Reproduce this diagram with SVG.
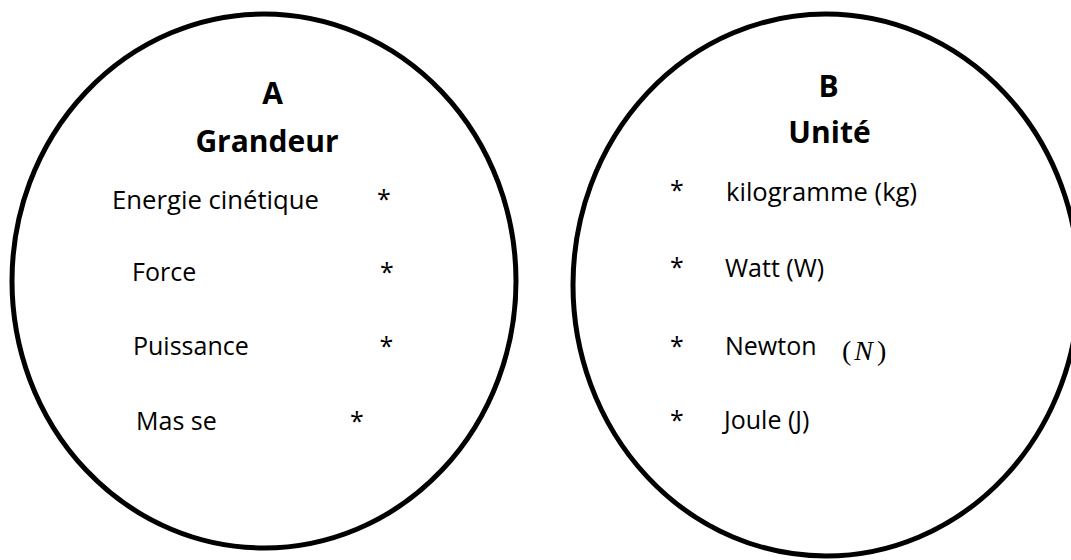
<svg xmlns="http://www.w3.org/2000/svg" width="1071" height="560" viewBox="0 0 1071 560">
  <style>
    .ring { fill: none; stroke: #000; stroke-width: 5; }
    .title { font-family: "Open Sans", "Liberation Sans", sans-serif; font-weight: bold; font-size: 30px; fill: #000; text-anchor: middle; }
    .item { font-family: "Open Sans", "Liberation Sans", sans-serif; font-size: 25px; fill: #000; }
    .star { font-family: "Open Sans", "Liberation Sans", sans-serif; font-size: 25px; fill: #000; text-anchor: middle; }
    .math { font-family: "Liberation Serif", "DejaVu Serif", serif; font-size: 28px; fill: #000; }
  </style>
  <rect width="1071" height="560" fill="#fff"/>
  <g id="circle-A">
    <ellipse class="ring" cx="264" cy="281" rx="252" ry="267"/>
    <text class="title" x="272.5" y="104">A</text>
    <text class="title" x="267" y="152">Grandeur</text>
    <g id="A-energie">
      <text class="item" x="112" y="209" textLength="207" lengthAdjust="spacingAndGlyphs">Energie cinétique</text>
      <text class="star" x="384" y="208">*</text>
    </g>
    <g id="A-force">
      <text class="item" x="132" y="281">Force</text>
      <text class="star" x="387" y="281">*</text>
    </g>
    <g id="A-puissance">
      <text class="item" x="133" y="355">Puissance</text>
      <text class="star" x="386.5" y="355">*</text>
    </g>
    <g id="A-masse">
      <text class="item" x="136" y="430">Mas se</text>
      <text class="star" x="357" y="430">*</text>
    </g>
  </g>
  <g id="circle-B">
    <ellipse class="ring" cx="826" cy="285" rx="253" ry="271"/>
    <text class="title" x="828.5" y="97">B</text>
    <text class="title" x="829.5" y="143">Unité</text>
    <g id="B-kg">
      <text class="star" x="677" y="199">*</text>
      <text class="item" x="726" y="201" textLength="191" lengthAdjust="spacingAndGlyphs">kilogramme (kg)</text>
    </g>
    <g id="B-watt">
      <text class="star" x="677" y="276">*</text>
      <text class="item" x="725" y="277">Watt (W)</text>
    </g>
    <g id="B-newton">
      <text class="star" x="677" y="355">*</text>
      <text class="item" x="725" y="355">Newton</text>
      <text class="math" x="842" y="360">(<tspan font-style="italic" dx="3">N</tspan><tspan dx="4">)</tspan></text>
    </g>
    <g id="B-joule">
      <text class="star" x="677" y="429">*</text>
      <text class="item" x="724" y="429">Joule (J)</text>
    </g>
  </g>
</svg>
